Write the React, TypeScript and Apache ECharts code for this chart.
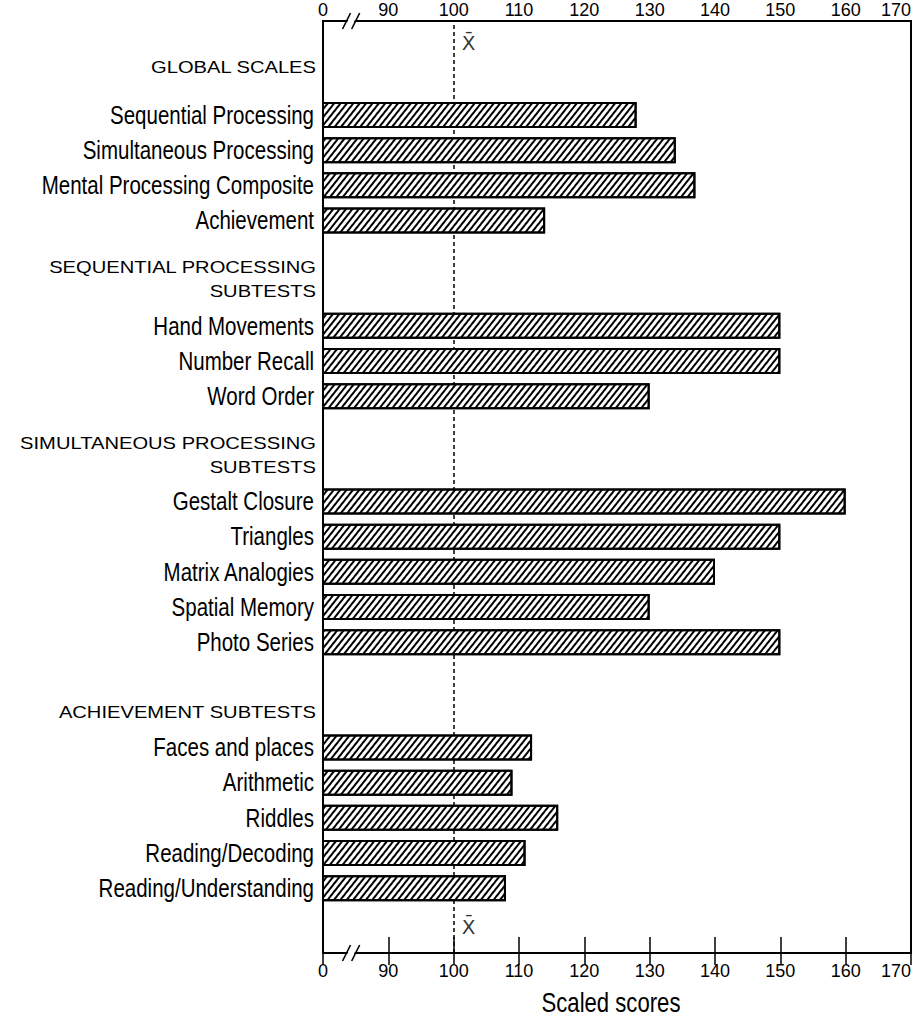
import React, { useEffect, useRef } from "react";
import * as echarts from "echarts";

// ---- data ----
const groupHeaders = [
  "GLOBAL SCALES",
  "SEQUENTIAL PROCESSING\nSUBTESTS",
  "SIMULTANEOUS PROCESSING\nSUBTESTS",
  "ACHIEVEMENT SUBTESTS",
];
const globalScales = [
  "Sequential Processing",
  "Simultaneous Processing",
  "Mental Processing Composite",
  "Achievement",
];
const globalScores = [128, 134, 137, 114];
const seqSubtests = ["Hand Movements", "Number Recall", "Word Order"];
const seqScores = [150, 150, 130];
const simSubtests = [
  "Gestalt Closure",
  "Triangles",
  "Matrix Analogies",
  "Spatial Memory",
  "Photo Series",
];
const simScores = [160, 150, 140, 130, 150];
const achSubtests = [
  "Faces and places",
  "Arithmetic",
  "Riddles",
  "Reading/Decoding",
  "Reading/Understanding",
];
const achScores = [112, 109, 116, 111, 108];
const meanScore = 100;
const axisMin = 80; // shown as "0" (broken axis)
const axisMax = 170;
const axisStep = 10;
const axisName = "Scaled scores";
const meanSymbol = "X\u0304";

type Row = { key: string; kind: "item" | "header" | "blank"; text: string; value: number | null; lift?: number };

function buildRows(): Row[] {
  const rows: Row[] = [];
  const items = (names: string[], vals: number[]) =>
    names.forEach((n, i) => rows.push({ key: n, kind: "item", text: n, value: vals[i] }));
  rows.push({ key: "h0", kind: "header", text: groupHeaders[0], value: null, lift: 12 });
  items(globalScales, globalScores);
  rows.push({ key: "b1", kind: "blank", text: "", value: null });
  rows.push({ key: "h1", kind: "header", text: groupHeaders[1], value: null, lift: 11 });
  items(seqSubtests, seqScores);
  rows.push({ key: "b2", kind: "blank", text: "", value: null });
  rows.push({ key: "h2", kind: "header", text: groupHeaders[2], value: null, lift: 11 });
  items(simSubtests, simScores);
  rows.push({ key: "b3", kind: "blank", text: "", value: null });
  rows.push({ key: "h3", kind: "header", text: groupHeaders[3], value: null, lift: 0 });
  items(achSubtests, achScores);
  return rows;
}

const SANS = "'Liberation Sans', Arial, Helvetica, sans-serif";
const WIDE = "'DejaVu Sans', Verdana, sans-serif";

export default function App() {
  const ref = useRef<HTMLDivElement>(null);
  useEffect(() => {
    document.body.style.margin = "0";
    const rows = buildRows();
    const chart = echarts.init(ref.current!, null, { renderer: "svg", width: 918, height: 1020 });
    const tickFmt = (v: number) => (v === axisMin ? "0" : String(v));
    const commonX = {
      type: "value",
      min: axisMin,
      max: axisMax,
      interval: axisStep,
      splitLine: { show: false },
    };
    const option: any = {
      animation: false,
      backgroundColor: "#fff",
      grid: [
        { left: 323, right: 7, top: 62.3, height: 843.4, outerBoundsMode: "none", containLabel: false },
        {
          left: 323,
          right: 7,
          top: 21,
          bottom: 67,
          show: true,
          borderColor: "#000",
          borderWidth: 2,
          backgroundColor: "transparent",
          outerBoundsMode: "none",
          containLabel: false,
        },
      ],
      xAxis: [
        { ...commonX, gridIndex: 0, show: false },
        {
          ...commonX,
          gridIndex: 1,
          position: "top",
          axisLine: { show: true, lineStyle: { color: "#000", width: 2 } },
          axisTick: { show: true, inside: true, length: 12, lineStyle: { color: "#000", width: 1.5 } },
          axisLabel: {
            margin: 2,
            formatter: tickFmt,
            fontFamily: SANS,
            fontSize: 18,
            color: "#000",
            alignMaxLabel: "right",
          },
        },
        {
          ...commonX,
          gridIndex: 1,
          position: "bottom",
          axisLine: { show: true, lineStyle: { color: "#000", width: 2 } },
          axisTick: { show: true, inside: true, length: 16, lineStyle: { color: "#000", width: 1.5 } },
          axisLabel: {
            margin: 9,
            formatter: tickFmt,
            fontFamily: SANS,
            fontSize: 18,
            color: "#000",
            alignMaxLabel: "right",
          },
        },
      ],
      yAxis: [
        {
          type: "category",
          gridIndex: 0,
          inverse: true,
          data: rows.map((r) => r.key),
          axisLine: { show: false },
          axisTick: { show: false },
          splitLine: { show: false },
          axisLabel: { show: false },
        },
        { type: "value", gridIndex: 1, min: 0, max: 1, show: false },
      ],
      series: [
        {
          type: "bar",
          xAxisIndex: 0,
          yAxisIndex: 0,
          data: rows.map((r) => (r.value == null ? "-" : r.value)),
          barWidth: 26,
          z: 5,
          itemStyle: {
            color: "#fff",
            borderColor: "#000",
            borderWidth: 2,
            decal: {
              symbol: "rect",
              symbolSize: 1,
              dashArrayX: [1, 0],
              dashArrayY: [1.5, 3],
              rotation: -0.9,
              color: "#000",
            },
          },
        },
        {
          type: "scatter",
          xAxisIndex: 1,
          yAxisIndex: 1,
          z: 2,
          symbolSize: 0,
          data: [
            [meanScore, 0.976],
            [meanScore, 0.028],
          ],
          label: {
            show: true,
            position: "right",
            distance: 8,
            formatter: meanSymbol,
            fontFamily: WIDE,
            fontSize: 20,
            color: "#000",
          },
          markLine: {
            silent: true,
            symbol: ["none", "none"],
            label: { show: false },
            lineStyle: { color: "#000", type: [4, 3], width: 1.5 },
            data: [{ xAxis: meanScore }],
          },
        },
      ],
    };
    chart.setOption(option);

    const px = (v: number) => chart.convertToPixel({ xAxisIndex: 1 }, v) as number;
    const py = (v: number) => chart.convertToPixel({ yAxisIndex: 1 }, v) as number;
    const g: any[] = [];

    // category labels (condensed look via horizontal scaling)
    const labelX = (chart.convertToPixel({ xAxisIndex: 0 }, axisMin) as number) - 9;
    rows.forEach((r) => {
      if (r.kind === "blank") return;
      const cy = chart.convertToPixel({ yAxisIndex: 0 }, r.key) as number;
      if (r.kind === "item") {
        g.push({
          type: "text",
          x: labelX,
          y: cy,
          scaleX: 0.82,
          style: {
            text: r.text,
            x: 0,
            y: 0,
            align: "right",
            verticalAlign: "middle",
            font: `25px ${SANS}`,
            fill: "#000",
          },
          z: 50,
        });
      } else {
        g.push({
          type: "text",
          x: labelX + 2,
          y: cy - (r.lift || 0),
          scaleX: 1.26,
          style: {
            text: r.text,
            x: 0,
            y: 0,
            align: "right",
            verticalAlign: "middle",
            lineHeight: 24,
            font: `16px ${SANS}`,
            fill: "#000",
          },
          z: 50,
        });
      }
    });

    // axis title
    g.push({
      type: "text",
      x: (px(axisMin) + px(axisMax)) / 2 - 6,
      y: py(0) + 50,
      scaleX: 0.82,
      style: {
        text: axisName,
        x: 0,
        y: 0,
        align: "center",
        verticalAlign: "middle",
        font: `27px ${SANS}`,
        fill: "#000",
      },
      z: 50,
    });

    // axis-break marks "//" on the top and bottom axes
    const x1 = px(83.6);
    const x2 = px(85.0);
    [py(1), py(0)].forEach((y) => {
      g.push({
        type: "polygon",
        shape: {
          points: [
            [x1 - 0.3, y + 3],
            [x1 + 2.7, y - 3],
            [x2 + 0.3, y - 3],
            [x2 - 2.7, y + 3],
          ],
        },
        style: { fill: "#fff" },
        z: 100,
      });
      [x1, x2].forEach((x) =>
        g.push({
          type: "line",
          shape: { x1: x - 4, y1: y + 8, x2: x + 4, y2: y - 8 },
          style: { stroke: "#000", lineWidth: 1.6 },
          z: 101,
        })
      );
    });
    chart.setOption({ graphic: g });
    return () => chart.dispose();
  }, []);
  return <div ref={ref} style={{ position: "absolute", left: 0, top: 0, width: 918, height: 1020 }} />;
}
